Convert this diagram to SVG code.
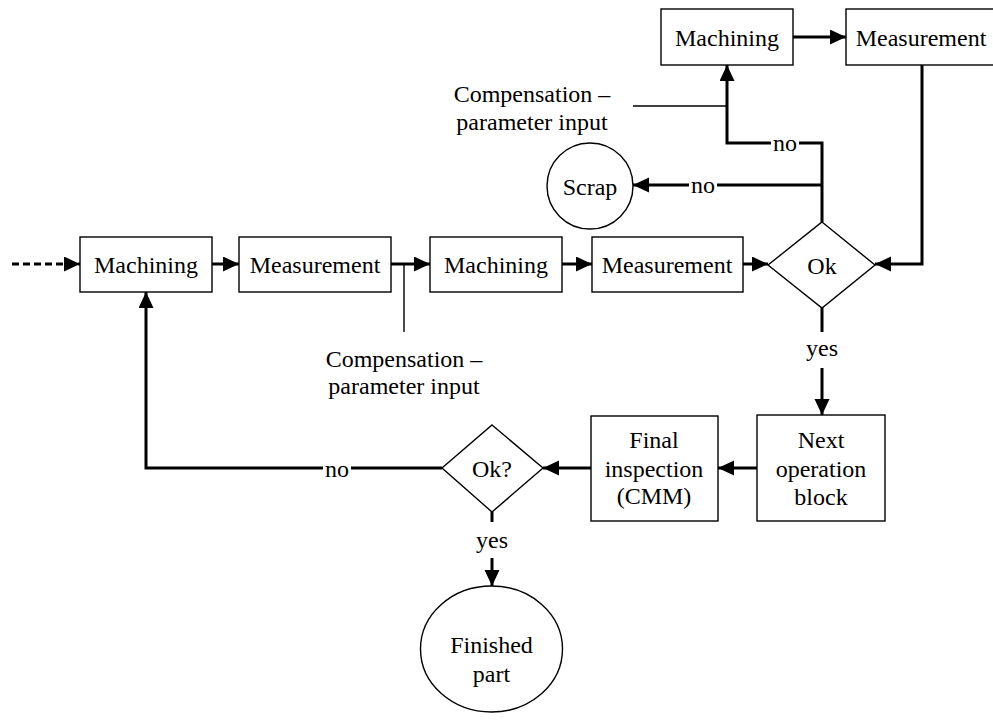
<svg xmlns="http://www.w3.org/2000/svg" width="993" height="722" viewBox="0 0 993 722">
  <defs>
    <marker id="arrow" markerUnits="userSpaceOnUse" markerWidth="16" markerHeight="16" refX="16" refY="7.5" orient="auto">
      <path d="M0,0 L16,7.5 L0,15 z" fill="#000"/>
    </marker>
    <style>
      .box { fill: #fff; stroke: #000; stroke-width: 1.4; }
      .lbl { font-family: "Liberation Serif", "Times New Roman", serif; font-size: 24px; fill: #000; text-anchor: middle; }
      .flow { fill: none; stroke: #000; stroke-width: 3; }
      .arr { marker-end: url(#arrow); }
      .thin { fill: none; stroke: #000; stroke-width: 1.4; }
      .dash { stroke-dasharray: 7 4; }
    </style>
  </defs>
  <rect width="993" height="722" fill="#fff"/>

  <!-- connectors -->
  <g id="connectors">
    <line class="flow arr dash" x1="12" y1="264" x2="80" y2="264"/>
    <line class="flow arr" x1="212" y1="264" x2="239" y2="264"/>
    <line class="flow arr" x1="391" y1="264" x2="430" y2="264"/>
    <line class="flow arr" x1="562" y1="264" x2="592" y2="264"/>
    <line class="flow arr" x1="743" y1="264" x2="768" y2="264"/>
    <line class="flow arr" x1="793" y1="37" x2="846" y2="37"/>
    <polyline class="flow arr" points="922,65 922,264 875,264"/>
    <!-- Ok: no branches -->
    <polyline class="flow arr" points="822,222 822,143 727,143 727,65"/>
    <line class="flow arr" x1="822" y1="185" x2="633" y2="185"/>
    <!-- Ok: yes -->
    <line class="flow" x1="822" y1="308" x2="822" y2="332"/>
    <line class="flow arr" x1="822" y1="368" x2="822" y2="415"/>
    <line class="flow arr" x1="757" y1="468" x2="718" y2="468"/>
    <line class="flow arr" x1="591" y1="468" x2="543" y2="468"/>
    <!-- Ok?: no loop back -->
    <polyline class="flow arr" points="442,468 146,468 146,292"/>
    <!-- Ok?: yes -->
    <line class="flow" x1="492" y1="512" x2="492" y2="522"/>
    <line class="flow arr" x1="492" y1="558" x2="492" y2="586"/>
    <!-- compensation inputs -->
    <line class="thin" x1="633" y1="106" x2="727" y2="106"/>
    <line class="thin" x1="404" y1="264" x2="404" y2="332"/>
  </g>

  <!-- branch labels -->
  <g id="branch-labels">
    <rect x="771" y="132" width="28" height="24" fill="#fff"/>
    <text class="lbl" x="785" y="151">no</text>
    <rect x="689" y="174" width="28" height="24" fill="#fff"/>
    <text class="lbl" x="703" y="193">no</text>
    <rect x="323" y="457" width="28" height="24" fill="#fff"/>
    <text class="lbl" x="337" y="477">no</text>
    <text class="lbl" x="822" y="356">yes</text>
    <text class="lbl" x="492" y="548">yes</text>
  </g>

  <g id="machining-1">
    <rect class="box" x="80" y="237" width="132" height="55"/>
    <text class="lbl" x="146" y="273">Machining</text>
  </g>
  <g id="measurement-1">
    <rect class="box" x="239" y="237" width="152" height="55"/>
    <text class="lbl" x="315" y="273">Measurement</text>
  </g>
  <g id="machining-2">
    <rect class="box" x="430" y="237" width="132" height="55"/>
    <text class="lbl" x="496" y="273">Machining</text>
  </g>
  <g id="measurement-2">
    <rect class="box" x="592" y="237" width="151" height="55"/>
    <text class="lbl" x="667" y="273">Measurement</text>
  </g>
  <g id="ok-decision">
    <polygon class="box" points="822,222 875,265 822,308 768,265"/>
    <text class="lbl" x="822" y="274">Ok</text>
  </g>
  <g id="machining-rework">
    <rect class="box" x="661" y="9" width="132" height="56"/>
    <text class="lbl" x="727" y="46">Machining</text>
  </g>
  <g id="measurement-rework">
    <rect class="box" x="846" y="9" width="150" height="56"/>
    <text class="lbl" x="921" y="46">Measurement</text>
  </g>
  <g id="scrap">
    <circle class="box" cx="590" cy="186" r="43"/>
    <text class="lbl" x="590" y="195">Scrap</text>
  </g>
  <g id="compensation-top">
    <text class="lbl" x="532" y="102">Compensation –</text>
    <text class="lbl" x="532" y="130">parameter input</text>
  </g>
  <g id="compensation-bottom">
    <text class="lbl" x="404" y="367">Compensation –</text>
    <text class="lbl" x="404" y="394">parameter input</text>
  </g>
  <g id="next-operation">
    <rect class="box" x="757" y="415" width="128" height="106"/>
    <text class="lbl" x="821" y="448">Next</text>
    <text class="lbl" x="821" y="477">operation</text>
    <text class="lbl" x="821" y="505">block</text>
  </g>
  <g id="final-inspection">
    <rect class="box" x="591" y="416" width="127" height="105"/>
    <text class="lbl" x="654" y="448">Final</text>
    <text class="lbl" x="654" y="477">inspection</text>
    <text class="lbl" x="654" y="504">(CMM)</text>
  </g>
  <g id="ok-final-decision">
    <polygon class="box" points="492,425 543,468 492,512 442,468"/>
    <text class="lbl" x="492" y="477">Ok?</text>
  </g>
  <g id="finished-part">
    <ellipse class="box" cx="491.5" cy="649" rx="71" ry="63"/>
    <text class="lbl" x="491.5" y="653">Finished</text>
    <text class="lbl" x="491.5" y="682">part</text>
  </g>
</svg>
